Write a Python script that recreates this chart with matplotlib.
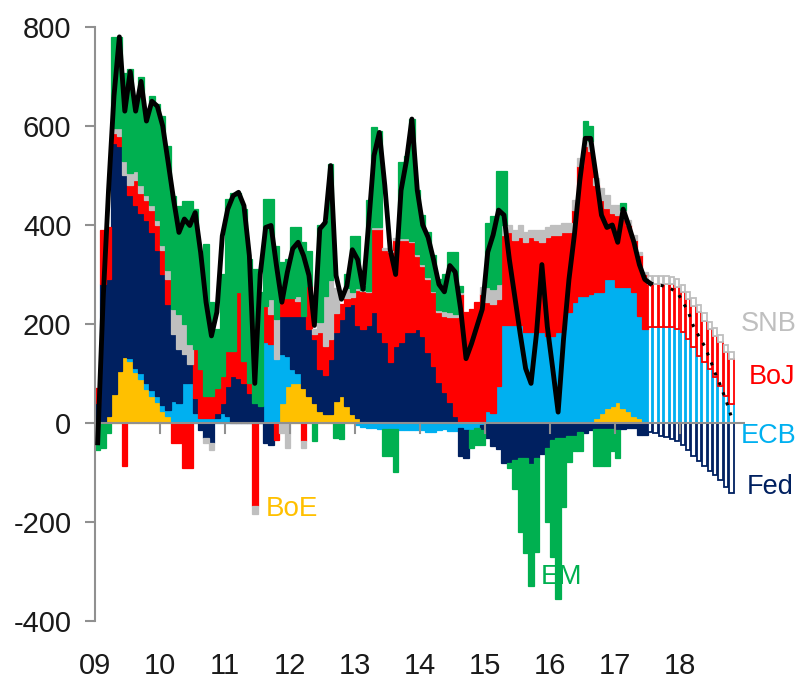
import numpy as np
import matplotlib
matplotlib.use('Agg')
import matplotlib.pyplot as plt

plt.rcParams['font.family'] = ['Liberation Sans', 'DejaVu Sans']
plt.rcParams['axes.unicode_minus'] = False

# monthly changes, Jan 2009 - Oct 2018 (forecast from Jul 2017)
boe = ([0, 0, 15, 59, 106, 133, 126, 102, 89, 69, 55, 42] +
       [25, 15, 5, 0, 0, 0, 0, 0, 0, 0, 0, 0] +
       [0, 0, 0, 0, 0, 0, 0, 0, 0, 0, 40, 75] +
       [80, 80, 70, 55, 40, 25, 18, 18, 45, 55, 35, 18] +
       [10, 0, 0, 0, 0, 0, 0, 0, 0, 0, 0, 0] +
       [0] * 12 +
       [5, 0, 0, 0, 0, 0, 0, 0, 0, 0, 0, 0] +
       [0, 0, 0, 0, 0, 0, 0, 0, 10, 20, 30, 35] +
       [42, 30, 25, 15, 10, 5, 0, 0, 0, 0, 0, 0] +
       [0] * 10)
ecb = ([0, 0, 0, 0, 0, 0, 5, 10, 12, 12, 12, 12] +
       [12, 12, 40, 40, 80, 80, 20, 10, 10, 10, 10, 20] +
       [15, 0, 0, 0, 0, 0, 0, 163, 160, 130, 100, 60] +
       [30, 20, 0, 0, 0, 0, 0, 0, 0, 0, 0, 0] +
       [-5, -8, -10, -10, -12, -12, -12, -12, -15, -15, -15, -15] +
       [-15, -18, -18, -15, -12, -16, -16, -10, -15, -15, -10, -5] +
       [20, 20, 75, 197, 197, 197, 197, 183, 183, 183, 183, 176] +
       [176, 183, 190, 224, 244, 257, 257, 260, 254, 244, 261, 256] +
       [232, 244, 249, 249, 207, 185, 193, 193, 193, 193, 193, 190] +
       [183, 170, 153, 136, 123, 109, 92, 75, 55, 38])
fed = ([40, 280, 275, 506, 454, 367, 329, 328, 324, 329, 318, 296] +
       [263, 213, 135, 110, 60, 40, 30, -15, -30, -40, 10, 20] +
       [60, 95, 90, 80, 60, 40, 35, -40, -45, 0, 77, 82] +
       [107, 117, 147, 135, 130, 84, 78, 111, 138, 155, 202, 222] +
       [187, 190, 197, 224, 183, 163, 123, 156, 163, 183, 183, 190] +
       [176, 143, 116, 82, 62, 42, 15, -56, -56, 0, 0, -10] +
       [-30, -46, -53, -80, -80, -75, -70, -70, -83, -70, -63, -50] +
       [-35, -30, -30, -26, -26, -19, -20, -15, -12, -12, -12, -12] +
       [-15, -12, -10, -10, -25, -25, -19, -21, -26, -29, -32, -37] +
       [-44, -55, -66, -76, -86, -96, -106, -116, -130, -141])
boj = ([30, 110, 105, 20, 20, -86, 20, 50, 40, 40, 45, 50] +
       [50, 50, -40, -40, -90, -90, 100, 100, 45, 45, 50, 55] +
       [70, 50, 175, 45, 20, -167, 0, 74, 60, -35, 35, 35] +
       [35, 30, -36, 87, 10, 74, 60, 40, 40, 30, 15, 15] +
       [72, 76, 67, 168, 209, 187, 222, 214, 207, 187, 182, 148] +
       [142, 148, 148, 142, 155, 173, 200, 260, 224, 230, 245, 260] +
       [220, 220, 175, 183, 188, 173, 178, 182, 192, 187, 182, 199] +
       [204, 197, 195, 161, 186, 263, 303, 290, 216, 186, 144, 134] +
       [146, 138, 126, 106, 123, 110, 88, 88, 88, 88, 87, 85] +
       [81, 80, 84, 88, 84, 81, 84, 88, 88, 91])
snb = ([0, 0, 0, 10, 15, 30, 25, 20, 15, 10, 10, 10] +
       [10, 20, 50, 70, 60, 40, 0, 0, -10, -15, 0, 0] +
       [0, 0, 0, 0, 0, -17, 0, 0, 30, 80, -20, -50] +
       [0, 10, -15, 0, 10, 20, 100, 120, 50, 0, 20, 10] +
       [3] * 12 +
       [3, 3, 3, 5, 10, 10, 5, 5, 0, 0, 0, 15] +
       [30, 30, 30, 20, 15, 20, 25, 20, 15, 20, 25, 20] +
       [20, 20, 20, 20, 20, 15, 15, 20, 15, 25, 25, 15] +
       [20, 18, 10, 10, 5, 5, 15, 15, 15, 15, 15, 15] +
       [15] * 10)
em = ([-55, -50, -20, 185, 185, 178, 210, 124, 218, 154, 221, 234] +
      [261, 250, 229, 219, 249, 289, 282, 235, 307, 189, 120, 205] +
      [307, 320, 200, 307, 251, 271, 229, 215, 202, 148, 73, 79] +
      [143, 138, 148, 71, -36, 196, 153, 234, -30, -32, 28, 113] +
      [106, 8, 183, 202, 195, -55, -55, -87, 154, 167, 246, 129] +
      [99, 91, 73, 61, 73, 120, 125, 12, 0, -35, -35, -30] +
      [130, 149, 230, 110, -10, -58, -151, -192, -246, -191, 0, -150] +
      [-235, -326, -140, -53, -30, -37, 36, 30, -74, -74, -74, -44] +
      [-56, 15, 0, 0, 0, 0, 0, 0, 0, 0, 0, 0] +
      [0] * 10)
total = ([-40, 250, 470, 660, 780, 630, 710, 630, 690, 610, 650, 640] +
         [600, 527, 452, 385, 412, 399, 425, 345, 244, 176, 224, 378] +
         [432, 459, 466, 439, 338, 80, 300, 395, 399, 318, 244, 304] +
         [352, 365, 338, 298, 197, 392, 405, 520, 298, 250, 277, 350] +
         [330, 270, 400, 540, 587, 480, 350, 300, 470, 530, 614, 470] +
         [400, 375, 330, 280, 265, 318, 305, 230, 130, 160, 195, 230] +
         [345, 380, 430, 420, 330, 255, 180, 110, 80, 180, 320, 195] +
         [110, 22, 170, 290, 380, 490, 575, 575, 500, 420, 395, 400] +
         [365, 432, 400, 365, 320, 290, 282, 281, 278, 275, 270, 264] +
         [245, 225, 195, 175, 156, 130, 100, 75, 45, 12])
forecast_start = 102  # Jul 2017

years = list(range(2009, 2019))
year_labels = ['09', '10', '11', '12', '13', '14', '15', '16', '17', '18']

series = [('BoE', boe, '#FFC000'), ('ECB', ecb, '#00B0F0'), ('Fed', fed, '#002060'),
          ('BoJ', boj, '#FF0000'), ('SNB', snb, '#BFBFBF'), ('EM', em, '#00B050')]
neg_order = ['ECB', 'Fed', 'BoJ', 'SNB', 'BoE', 'EM']

n = len(fed)
x = 2009 + (np.arange(n) + 0.5) / 12
hist = np.arange(n) < forecast_start
fc = ~hist

fig = plt.figure(figsize=(8.01, 6.83), dpi=100)
ax = fig.add_axes([0.1186, 0.0908, 0.8115, 0.8697])

vals = {name: np.array(v, dtype=float) for name, v, c in series}
cols = {name: c for name, v, c in series}

# positive stack
bottom = np.zeros(n)
for name, v, c in series:
    pos = np.clip(vals[name], 0, None)
    m = hist & (pos > 0)
    ax.bar(x[m], pos[m], bottom=bottom[m], width=1/12, color=c,
           edgecolor=c, linewidth=0.9, zorder=2)
    m = fc & (pos > 0)
    ax.bar(x[m], pos[m], bottom=bottom[m], width=0.8/12, facecolor='white',
           edgecolor=c, linewidth=1.3, zorder=2)
    bottom += pos

# negative stack
bottom = np.zeros(n)
for name in neg_order:
    c = cols[name]
    neg = np.clip(vals[name], None, 0)
    m = hist & (neg < 0)
    ax.bar(x[m], neg[m], bottom=bottom[m], width=1/12, color=c,
           edgecolor=c, linewidth=0.9, zorder=2)
    m = fc & (neg < 0)
    ax.bar(x[m], neg[m], bottom=bottom[m], width=0.8/12, facecolor='white',
           edgecolor=c, linewidth=1.3, zorder=2)
    bottom += neg

ax.axhline(0, color='#909090', lw=1.5, zorder=3)
for yr in years[1:]:
    ax.plot([yr, yr], [0, -20], color='#909090', lw=1.5, zorder=3)

tot = np.array(total, dtype=float)
ax.plot(x[:forecast_start + 1], tot[:forecast_start + 1], color='black', lw=3.5,
        zorder=4, solid_joinstyle='round')
ax.plot(x[forecast_start:], tot[forecast_start:], color='black', lw=2.2,
        linestyle=(0, (1, 2.5)), zorder=4)

ax.set_xlim(2009, 2019)
ax.set_ylim(-400, 800)
ax.set_yticks(range(-400, 801, 200))
ax.set_xticks(years)
ax.set_xticklabels(year_labels)
for s in ['top', 'right', 'bottom']:
    ax.spines[s].set_visible(False)
ax.spines['left'].set_color('#909090')
ax.spines['left'].set_linewidth(1.5)
ax.tick_params(axis='y', length=7, width=1.5, color='#909090', labelsize=21,
               labelcolor='#1a1a1a', pad=10)
ax.tick_params(axis='x', length=0, labelsize=21, labelcolor='#1a1a1a', pad=22)

ax.text(2018.94, 200, 'SNB', color='#BFBFBF', fontsize=19.5, va='center', clip_on=False)
ax.text(2019.05, 93, 'BoJ', color='#FF0000', fontsize=19.5, va='center', clip_on=False)
ax.text(2018.94, -26, 'ECB', color='#00B0F0', fontsize=19.5, va='center', clip_on=False)
ax.text(2019.03, -130, 'Fed', color='#002060', fontsize=19.5, va='center', clip_on=False)
ax.text(2011.62, -174, 'BoE', color='#FFC000', fontsize=20, va='center')
ax.text(2015.85, -311, 'EM', color='#00B050', fontsize=20, va='center')

fig.savefig('out.png', dpi=100)
